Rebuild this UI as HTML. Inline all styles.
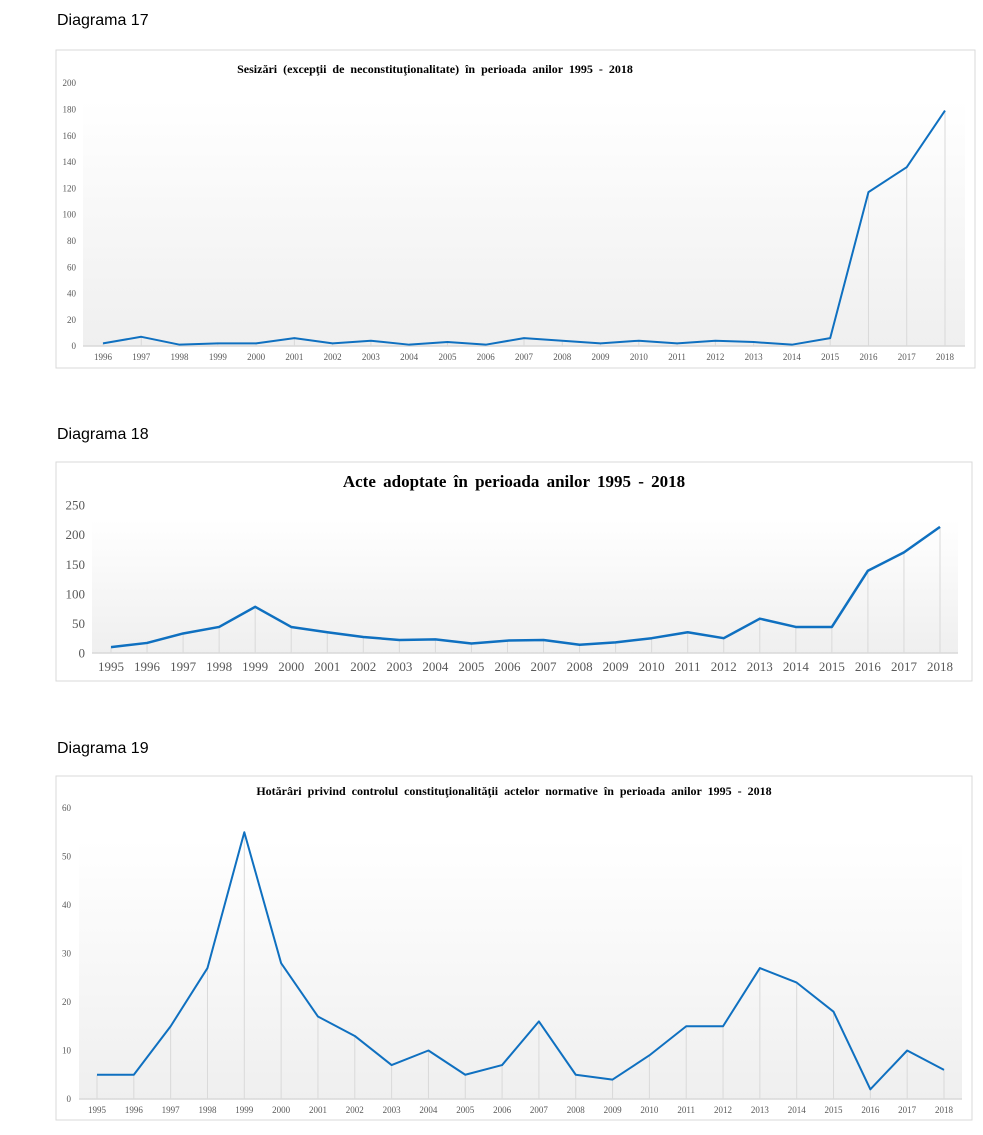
<!DOCTYPE html>
<html><head><meta charset="utf-8"><style>
body{margin:0;background:#fff;width:983px;height:1135px;overflow:hidden;font-family:"Liberation Sans",sans-serif}
.h{position:absolute;left:57px;font-size:16px;color:#000}
svg{position:absolute;left:0;top:0}
</style></head><body>
<div class="h" style="top:12px">Diagrama 17</div>
<div class="h" style="top:426px">Diagrama 18</div>
<div class="h" style="top:740px">Diagrama 19</div>
<svg id="s" width="983" height="1135" xmlns="http://www.w3.org/2000/svg">
<defs><linearGradient id="g" x1="0" y1="0" x2="0" y2="1"><stop offset="0" stop-color="#fff"/><stop offset="1" stop-color="#efefef"/></linearGradient></defs>
</svg>
<script>
const s=document.getElementById('s');let h='';
function chart(o){
 h+=`<rect x="${o.fx}" y="${o.fy}" width="${o.fw}" height="${o.fh}" fill="#fff" stroke="#d9d9d9"/>`;
 h+=`<rect x="${o.px0}" y="${o.gy}" width="${o.px1-o.px0}" height="${o.y0-o.gy}" fill="url(#g)"/>`;
 h+=`<line x1="${o.px0}" y1="${o.y0}" x2="${o.px1}" y2="${o.y0}" stroke="#d9d9d9" stroke-width="1.5"/>`;
 h+=`<text x="${o.tx}" y="${o.ty}" text-anchor="middle" font-family="Liberation Serif,serif" font-weight="bold" font-size="${o.tf}" word-spacing="3">${o.title}</text>`;
 for(let v=0;v<=o.max;v+=o.step){const y=o.y0-v*o.k;h+=`<text x="${o.lx}" y="${y+o.lf*0.35}" text-anchor="end" font-family="Liberation Serif,serif" font-size="${o.lf}" fill="#595959">${v}</text>`;}
 let pts=[];
 o.vals.forEach((v,i)=>{const x=o.x0+i*o.dx,y=o.y0-v*o.k;pts.push(x+','+y);
  h+=`<line x1="${x}" y1="${y}" x2="${x}" y2="${o.y0}" stroke="#d9d9d9"/>`;
  h+=`<text x="${x}" y="${o.xy}" text-anchor="middle" font-family="Liberation Serif,serif" font-size="${o.xf}" fill="#595959">${o.y1+i}</text>`;});
 h+=`<polyline points="${pts.join(' ')}" fill="none" stroke="#0f70c0" stroke-width="${o.sw}" stroke-linejoin="round"/>`;
}
chart({fx:56,fy:50,fw:919,fh:318,px0:83,px1:965,gy:100,y0:346,k:263/200,max:200,step:20,lx:76,lf:9,x0:103,dx:(945-103)/22,xy:360,xf:9,y1:1996,sw:2,tx:435,ty:73,tf:12,
 title:"Sesizări (excepţii de neconstituţionalitate) în perioada anilor 1995 - 2018",
 vals:[2,7,1,2,2,6,2,4,1,3,1,6,4,2,4,2,4,3,1,6,117,136,179]});
chart({fx:56,fy:462,fw:916,fh:219,px0:92,px1:958,gy:520,y0:653,k:148/250,max:250,step:50,lx:85,lf:13,x0:111,dx:(940-111)/23,xy:671,xf:13,y1:1995,sw:2.5,tx:514,ty:487,tf:17,
 title:"Acte adoptate în perioada anilor 1995 - 2018",
 vals:[10,17,33,44,78,44,35,27,22,23,16,21,22,14,18,25,35,25,58,44,44,139,170,213]});
chart({fx:56,fy:776,fw:916,fh:344,px0:79,px1:962,gy:840,y0:1099,k:291/60,max:60,step:10,lx:71,lf:9,x0:97,dx:(944-97)/23,xy:1113,xf:9,y1:1995,sw:2,tx:514,ty:795,tf:12,
 title:"Hotărâri privind controlul constituţionalităţii actelor normative în perioada anilor 1995 - 2018",
 vals:[5,5,15,27,55,28,17,13,7,10,5,7,16,5,4,9,15,15,27,24,18,2,10,6]});
s.innerHTML+=h;
</script>
</body></html>
